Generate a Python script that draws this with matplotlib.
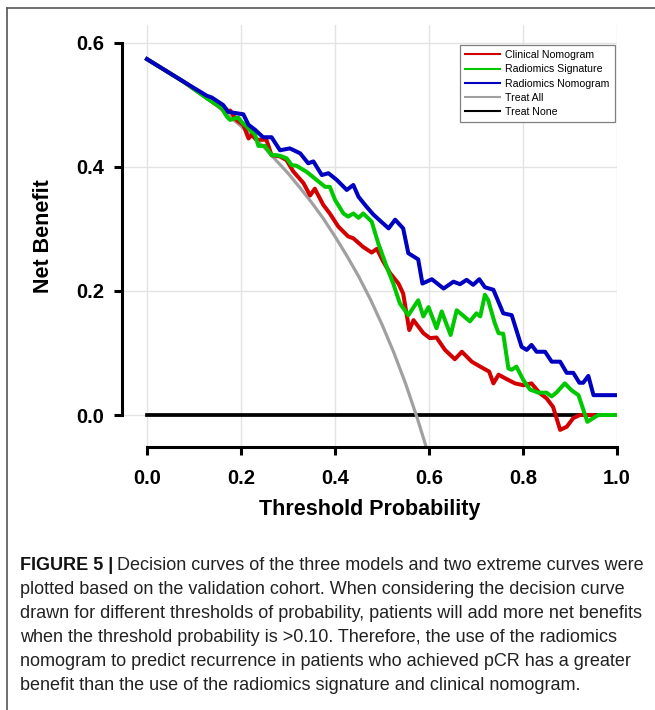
import matplotlib
matplotlib.use("Agg")
import matplotlib.pyplot as plt
from matplotlib.lines import Line2D

# data
clin_x = [0, 0.077, 0.113, 0.159, 0.166, 0.177, 0.19, 0.205, 0.216, 0.223, 0.233, 0.254, 0.265, 0.283,
          0.297, 0.311, 0.333, 0.347, 0.357, 0.375, 0.389, 0.407, 0.428, 0.439, 0.46, 0.478, 0.489, 0.503,
          0.517, 0.535, 0.545, 0.558, 0.567, 0.588, 0.602, 0.616, 0.634, 0.655, 0.67, 0.691, 0.709, 0.728,
          0.737, 0.748, 0.765, 0.783, 0.801, 0.818, 0.836, 0.85, 0.864, 0.879, 0.893, 0.907, 0.921, 0.95]
clin_y = [0.574, 0.538, 0.519, 0.495, 0.489, 0.491, 0.476, 0.468, 0.446, 0.452, 0.444, 0.444, 0.419, 0.417,
          0.411, 0.393, 0.374, 0.354, 0.365, 0.339, 0.325, 0.304, 0.288, 0.285, 0.271, 0.262, 0.268, 0.247,
          0.229, 0.212, 0.196, 0.137, 0.153, 0.132, 0.124, 0.125, 0.105, 0.09, 0.102, 0.086, 0.078, 0.07,
          0.051, 0.065, 0.058, 0.051, 0.048, 0.051, 0.035, 0.027, 0.013, -0.024, -0.019, -0.005, 0.0, 0.0]

sig_x = [0, 0.077, 0.127, 0.159, 0.17, 0.177, 0.194, 0.201, 0.219, 0.23, 0.237, 0.251, 0.265, 0.276, 0.287,
         0.297, 0.308, 0.318, 0.34, 0.361, 0.379, 0.389, 0.4, 0.418, 0.428, 0.439, 0.45, 0.46, 0.478, 0.492,
         0.51, 0.524, 0.538, 0.556, 0.577, 0.588, 0.599, 0.616, 0.627, 0.646, 0.659, 0.687, 0.701, 0.709,
         0.719, 0.726, 0.74, 0.748, 0.758, 0.769, 0.776, 0.786, 0.801, 0.815, 0.833, 0.85, 0.861, 0.871,
         0.889, 0.903, 0.918, 0.937, 0.96, 1.0]
sig_y = [0.574, 0.538, 0.511, 0.495, 0.481, 0.476, 0.48, 0.473, 0.46, 0.452, 0.434, 0.434, 0.419, 0.419, 0.417,
         0.414, 0.403, 0.402, 0.392, 0.379, 0.368, 0.368, 0.347, 0.325, 0.32, 0.325, 0.318, 0.325, 0.312, 0.277,
         0.239, 0.212, 0.18, 0.161, 0.185, 0.159, 0.174, 0.14, 0.167, 0.129, 0.169, 0.151, 0.164, 0.159,
         0.194, 0.185, 0.148, 0.132, 0.131, 0.075, 0.073, 0.078, 0.056, 0.041, 0.036, 0.036, 0.03, 0.036,
         0.051, 0.04, 0.032, -0.011, 0.0, 0.0]

nom_x = [0, 0.077, 0.127, 0.138, 0.162, 0.173, 0.18, 0.205, 0.216, 0.23, 0.247, 0.265, 0.283, 0.304, 0.326,
         0.343, 0.354, 0.372, 0.386, 0.404, 0.425, 0.439, 0.45, 0.467, 0.482, 0.514, 0.528, 0.545, 0.556,
         0.577, 0.586, 0.606, 0.631, 0.652, 0.666, 0.68, 0.694, 0.707, 0.719, 0.737, 0.758, 0.776, 0.797,
         0.808, 0.818, 0.829, 0.847, 0.861, 0.879, 0.893, 0.907, 0.92, 0.928, 0.939, 0.95, 1.0]
nom_y = [0.574, 0.538, 0.515, 0.512, 0.5, 0.489, 0.488, 0.485, 0.468, 0.46, 0.448, 0.448, 0.427, 0.43, 0.422,
         0.406, 0.409, 0.387, 0.39, 0.379, 0.363, 0.371, 0.352, 0.336, 0.323, 0.301, 0.315, 0.301, 0.261,
         0.251, 0.212, 0.219, 0.204, 0.215, 0.211, 0.218, 0.21, 0.219, 0.206, 0.202, 0.164, 0.161, 0.11,
         0.105, 0.113, 0.102, 0.102, 0.086, 0.086, 0.068, 0.068, 0.052, 0.052, 0.063, 0.032, 0.032]

all_x = [0, 0.05, 0.1, 0.15, 0.2, 0.25, 0.3, 0.325, 0.35, 0.375, 0.4, 0.425, 0.45, 0.475, 0.5,
         0.525, 0.55, 0.575, 0.595]
all_y = [0.573, 0.551, 0.526, 0.498, 0.466, 0.431, 0.390, 0.367, 0.343, 0.317, 0.288, 0.257, 0.224,
         0.187, 0.146, 0.101, 0.051, -0.005, -0.054]

none_x = [0, 1]
none_y = [0, 0]

labels = ["Clinical Nomogram", "Radiomics Signature", "Radiomics Nomogram", "Treat All", "Treat None"]
xticks = [0.0, 0.2, 0.4, 0.6, 0.8, 1.0]
yticks = [0.0, 0.2, 0.4, 0.6]

caption = [
    "Decision curves of the three models and two extreme curves were",
    "plotted based on the validation cohort. When considering the decision curve",
    "drawn for different thresholds of probability, patients will add more net benefits",
    "when the threshold probability is >0.10. Therefore, the use of the radiomics",
    "nomogram to predict recurrence in patients who achieved pCR has a greater",
    "benefit than the use of the radiomics signature and clinical nomogram.",
]

W, H = 655, 710
fig = plt.figure(figsize=(W / 100, H / 100), dpi=100)
ax = fig.add_axes([122 / W, 1 - 447 / H, 495 / W, 422 / H])

ax.grid(True, color="#e3e3e3", lw=1)
ax.set_axisbelow(True)

h_none, = ax.plot(none_x, none_y, color="black", lw=2.7)
h_all, = ax.plot(all_x, all_y, color="#a0a0a0", lw=2.3)
h_clin, = ax.plot(clin_x, clin_y, color="#d20000", lw=2.9)
h_sig, = ax.plot(sig_x, sig_y, color="#00c800", lw=2.9)
h_nom, = ax.plot(nom_x, nom_y, color="#0000c0", lw=2.9)

ax.set_xlim(-25 / 470, 1.0)
ax.set_ylim(-32 / 620, 390 / 620)
ax.set_xticks(xticks)
ax.set_yticks(yticks)
ax.set_xticklabels([f"{v:.1f}" for v in xticks])
ax.set_yticklabels([f"{v:.1f}" for v in yticks])

for s in ["top", "right"]:
    ax.spines[s].set_visible(False)
ax.spines["left"].set_bounds(0, 0.6)
ax.spines["bottom"].set_bounds(0, 1)
for s in ["left", "bottom"]:
    ax.spines[s].set_linewidth(2.2)

lab_font = {"family": "Liberation Sans", "weight": "bold"}
ax.tick_params(axis="both", length=6, width=2.2, labelsize=14.5)
ax.tick_params(axis="x", pad=10)
ax.tick_params(axis="y", pad=7)
for t in ax.get_xticklabels() + ax.get_yticklabels():
    t.set_fontfamily("Liberation Sans")
    t.set_fontweight("bold")

ax.set_xlabel("Threshold Probability", fontsize=15.5, labelpad=8, **lab_font)
ax.set_ylabel("Net Benefit", fontsize=15.5, labelpad=16, **lab_font)

leg = ax.legend([h_clin, h_sig, h_nom, h_all, h_none], labels, loc="upper right",
                bbox_to_anchor=(0.996, 0.953), fancybox=False, framealpha=1,
                edgecolor="#808080", prop={"family": "Liberation Sans", "size": 7.6},
                handlelength=3.3, handletextpad=0.5, labelspacing=0.4,
                borderpad=0.5, borderaxespad=0)
leg.get_frame().set_linewidth(0.9)
for ln in leg.get_lines():
    ln.set_linewidth(1.5)

# frame lines round the figure panel
fig.add_artist(Line2D([7 / W, 1], [1 - 8 / H, 1 - 8 / H], color="#555555", lw=1.2))
fig.add_artist(Line2D([7 / W, 7 / W], [0, 1 - 8 / H], color="#555555", lw=1.2))

# caption, sized so the first line runs from x=20 to about x=648 like the reference
renderer = fig.canvas.get_renderer()
line_y = [565, 589, 613, 638, 662, 686]
base = 10.0
head = fig.text(20 / W, 1 - line_y[0] / H, "FIGURE 5 |", family="Liberation Sans", weight="bold",
                size=base, va="center", ha="left", color="#111111")
body = fig.text(0, 1 - line_y[0] / H, caption[0], family="Liberation Sans", size=base,
                va="center", ha="left", color="#222222")
wid = head.get_window_extent(renderer).width + 4 + body.get_window_extent(renderer).width
size = base * 628 / wid
head.set_size(size)
hx = head.get_window_extent(renderer).x1
body.set_size(size)
body.set_x((hx + 4) / W)
for yy, line in zip(line_y[1:], caption[1:]):
    fig.text(20 / W, 1 - yy / H, line, family="Liberation Sans", size=size, va="center",
             ha="left", color="#222222")

fig.savefig("out.png", dpi=100)
